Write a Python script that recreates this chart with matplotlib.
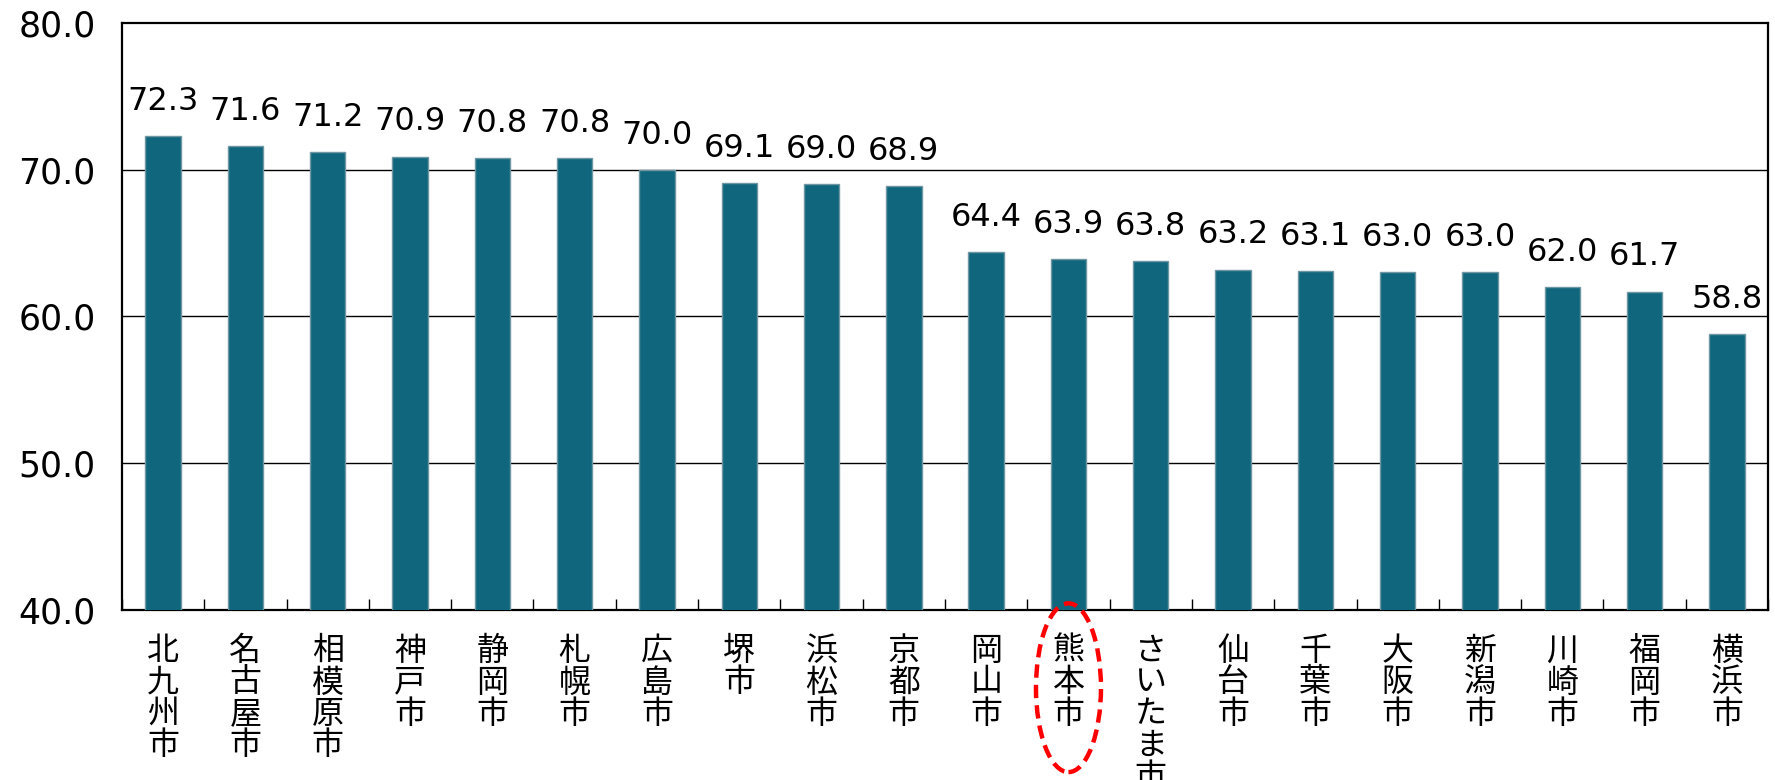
import numpy as np
import matplotlib.pyplot as plt
from matplotlib.patches import Ellipse

plt.rcParams['font.family'] = ['Noto Sans CJK JP', 'DejaVu Sans']

cities = ['北九州市', '名古屋市', '相模原市', '神戸市', '静岡市', '札幌市', '広島市',
          '堺市', '浜松市', '京都市', '岡山市', '熊本市', 'さいたま市', '仙台市',
          '千葉市', '大阪市', '新潟市', '川崎市', '福岡市', '横浜市']
values = [72.3, 71.6, 71.2, 70.9, 70.8, 70.8, 70.0, 69.1, 69.0, 68.9,
          64.4, 63.9, 63.8, 63.2, 63.1, 63.0, 63.0, 62.0, 61.7, 58.8]
yticks = [40, 50, 60, 70, 80]
highlight = '熊本市'

fig = plt.figure(figsize=(17.75, 7.8), dpi=100)
ax = fig.add_axes([0.0687, 0.218, 0.9274, 0.7525])

x = np.arange(len(cities))
ax.bar(x, values, width=0.43, color='#10677d', edgecolor='#6f97a3',
       linewidth=1, zorder=3)

# value labels above bars
for xi, v in zip(x, values):
    ax.text(xi, v + 1.3, f'{v:.1f}', ha='center', va='bottom', fontsize=23,
            family='DejaVu Sans')

ax.set_xlim(-0.5, len(cities) - 0.5)
ax.set_ylim(40, 80)
ax.set_yticks(yticks)
ax.set_yticklabels([f'{t:.1f}' for t in yticks], fontsize=25, family='DejaVu Sans')
ax.tick_params(axis='y', length=0, pad=19)
for t in yticks[1:-1]:
    ax.axhline(t, color='black', linewidth=1, zorder=1)

# vertical city names
ax.set_xticks(x)
ax.set_xticklabels(['\n'.join(c) for c in cities], fontsize=23,
                   linespacing=0.98, va='top')
ax.tick_params(axis='x', length=0, pad=18)
ax.set_xticks(np.arange(len(cities) + 1) - 0.5, minor=True)
ax.tick_params(axis='x', which='minor', direction='in', length=8, width=1)

for s in ax.spines.values():
    s.set_linewidth(1.6)
    s.set_color('black')

i = cities.index(highlight)
ell = Ellipse((i, 34.7), 0.79, 11.5, fill=False, edgecolor='#ff0000',
              linewidth=3.2, linestyle=(0, (3, 1.6)), clip_on=False, zorder=5)
ax.add_patch(ell)

fig.savefig('out.png', dpi=100)
